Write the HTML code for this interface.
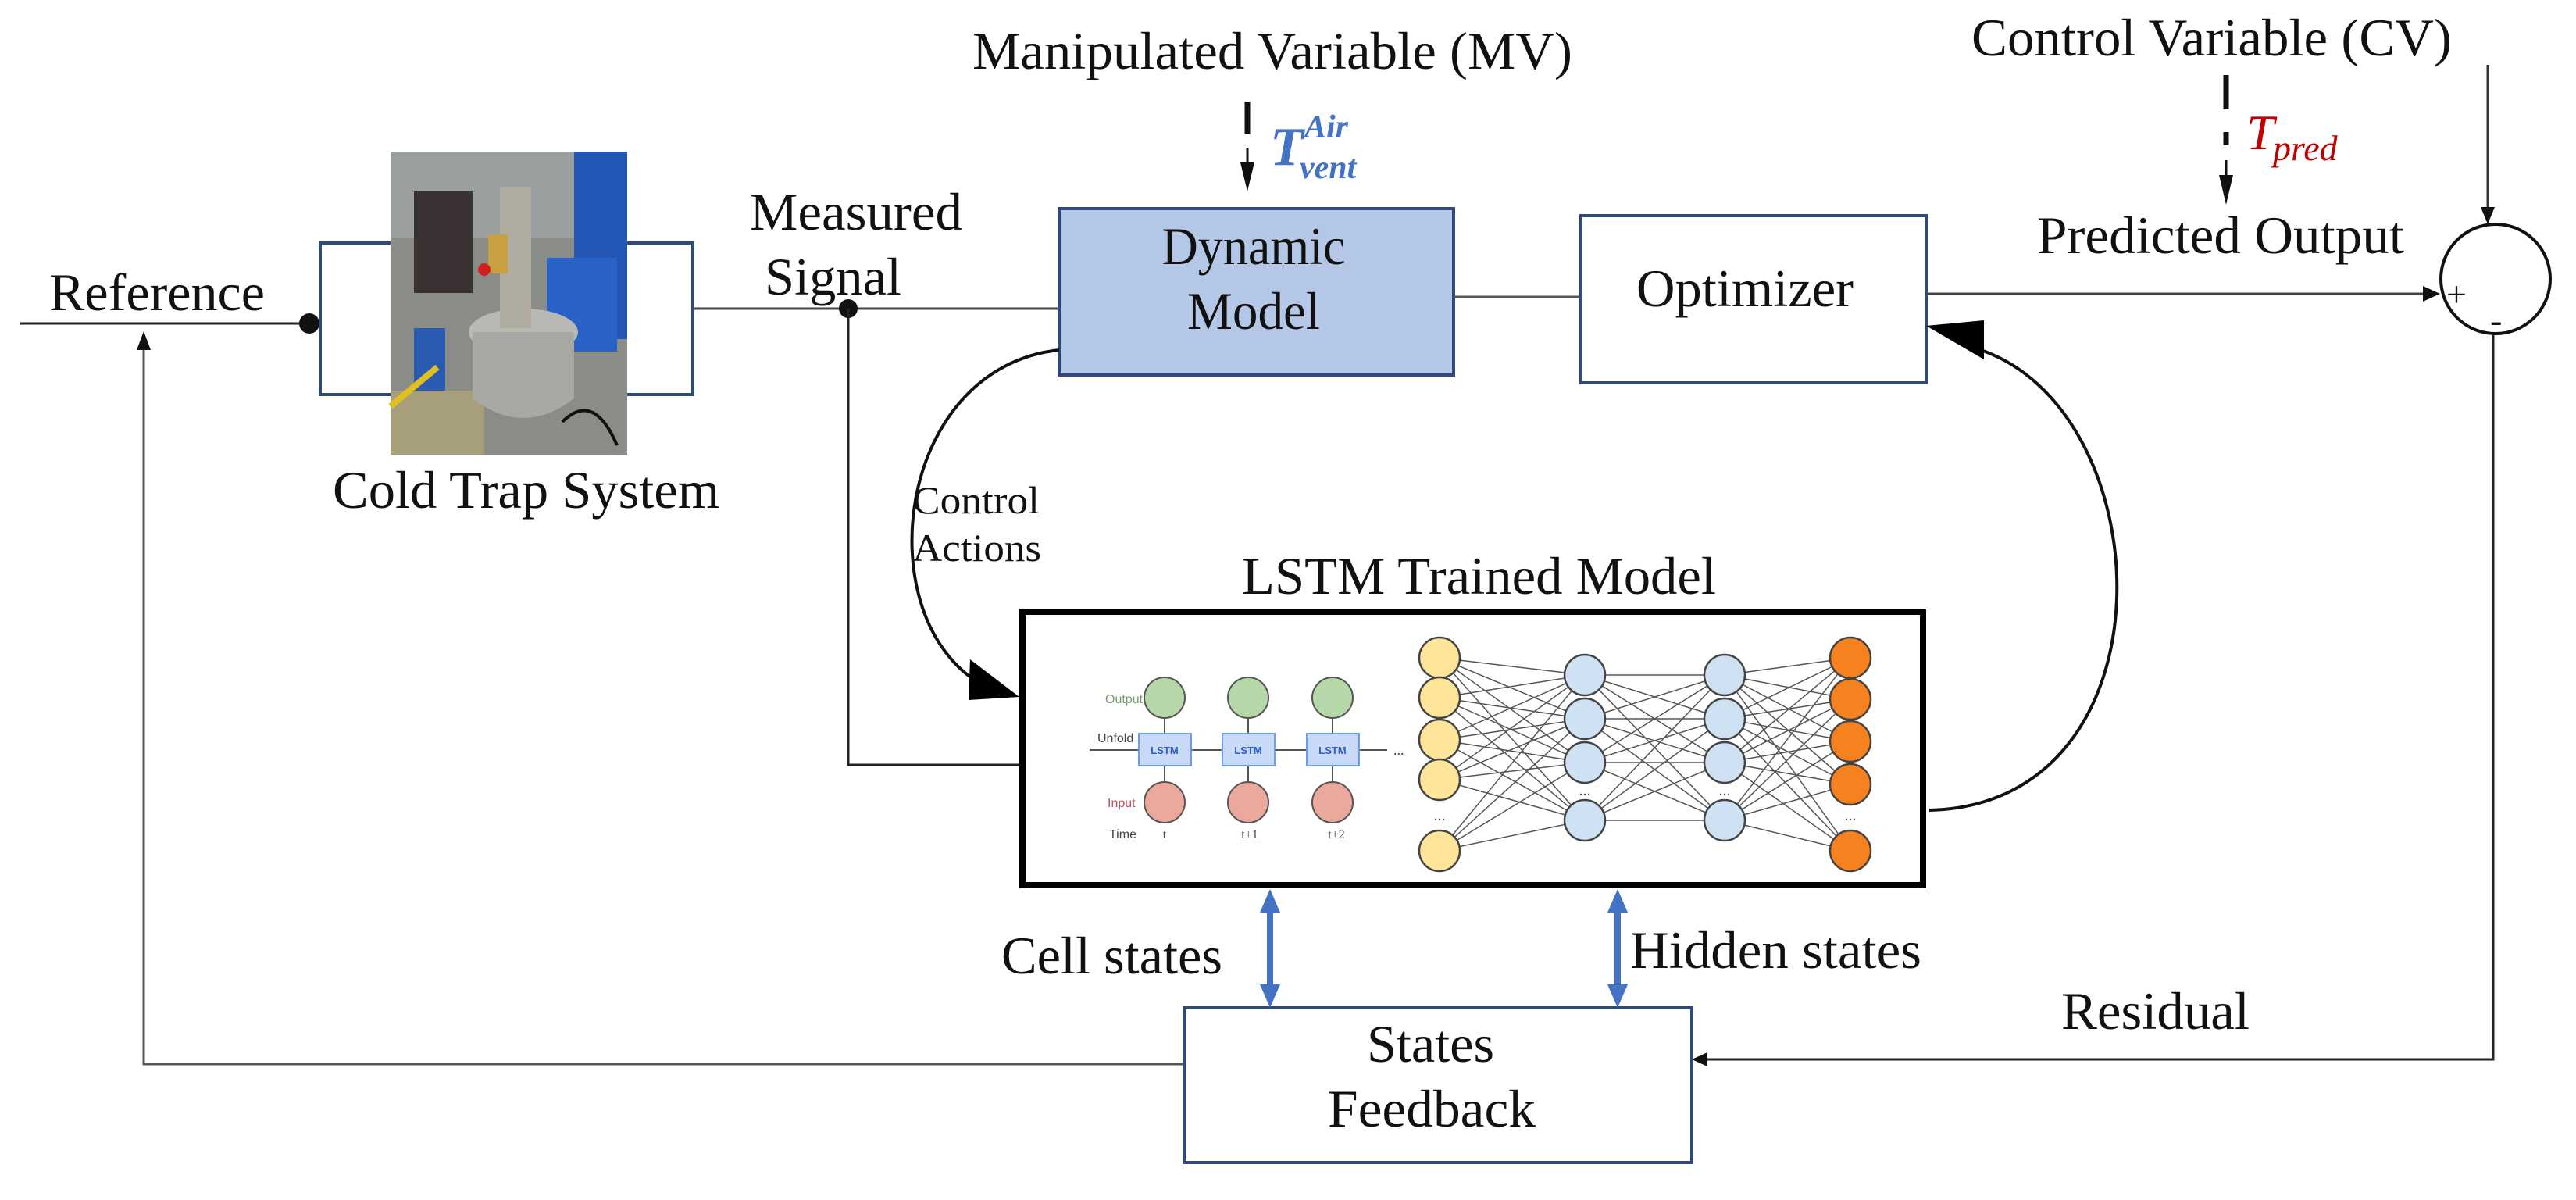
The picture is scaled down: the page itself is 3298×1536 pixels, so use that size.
<!DOCTYPE html>
<html><head><meta charset="utf-8"><style>
html,body{margin:0;padding:0;background:#fff;}
svg{display:block;}
text{font-family:"Liberation Serif",serif;fill:#111;}
</style></head><body>
<svg width="3298" height="1536" viewBox="0 0 3298 1536" xmlns="http://www.w3.org/2000/svg">

<!-- Reference line -->
<line x1="26" y1="414" x2="396" y2="414" stroke="#222" stroke-width="3"/>
<circle cx="396" cy="414" r="13" fill="#111"/>
<text x="63" y="397" font-size="68" textLength="276" lengthAdjust="spacingAndGlyphs">Reference</text>
<!-- feedback to reference -->
<polyline points="1516,1362 184,1362 184,440" fill="none" stroke="#555" stroke-width="3"/>
<path d="M184,424 l-9,24 l18,0z" fill="#111"/>

<!-- Cold trap bracket -->
<polyline points="500,311 410,311 410,505 500,505" fill="none" stroke="#2F4A7A" stroke-width="4"/>
<polyline points="803,311 887,311 887,505 803,505" fill="none" stroke="#2F4A7A" stroke-width="4"/>
<!-- photo -->
<g>
<rect x="500" y="194" width="303" height="388" fill="#8a8c88"/>
<rect x="500" y="194" width="303" height="110" fill="#9aa0a0"/>
<rect x="530" y="245" width="75" height="130" fill="#3a3232"/>
<rect x="735" y="194" width="68" height="240" fill="#2456b8"/>
<rect x="700" y="330" width="90" height="120" fill="#2a63c8"/>
<rect x="530" y="420" width="40" height="120" fill="#2a5bb0"/>
<rect x="500" y="500" width="120" height="82" fill="#a79e7c"/>
<path d="M500,520 L560,470" stroke="#e0c020" stroke-width="8"/>
<ellipse cx="670" cy="425" rx="70" ry="30" fill="#b8b8b4"/>
<path d="M605,425 L605,510 Q670,560 735,510 L735,425z" fill="#a8a8a4"/>
<rect x="640" y="240" width="40" height="180" fill="#b0aca0"/>
<rect x="625" y="300" width="25" height="50" fill="#c9a040"/>
<circle cx="620" cy="345" r="8" fill="#d02020"/>
<path d="M720,540 q40,-40 70,30" stroke="#111" stroke-width="4" fill="none"/>
</g>
<text x="426" y="650" font-size="68" textLength="495" lengthAdjust="spacingAndGlyphs">Cold Trap System</text>

<!-- Measured signal -->
<line x1="887" y1="395" x2="1356" y2="395" stroke="#444" stroke-width="3"/>
<circle cx="1086" cy="395" r="12" fill="#111"/>
<polyline points="1086,395 1086,979 1305,979" fill="none" stroke="#222" stroke-width="3"/>
<text x="960" y="294" font-size="68" textLength="272" lengthAdjust="spacingAndGlyphs">Measured</text>
<text x="979" y="377" font-size="68" textLength="175" lengthAdjust="spacingAndGlyphs">Signal</text>

<!-- MV -->
<text x="1245" y="88" font-size="68" textLength="768" lengthAdjust="spacingAndGlyphs">Manipulated Variable (MV)</text>
<line x1="1597" y1="130" x2="1597" y2="172" stroke="#111" stroke-width="7"/>
<line x1="1597" y1="190" x2="1597" y2="215" stroke="#111" stroke-width="3"/>
<path d="M1588,208 L1606,208 L1597,245z" fill="#111"/>
<text x="1626" y="211" font-size="70" font-style="italic" font-weight="bold" style="fill:#4472C4">T</text>
<text x="1670" y="176" font-size="42" font-style="italic" font-weight="bold" style="fill:#4472C4">Air</text>
<text x="1664" y="228" font-size="42" font-style="italic" font-weight="bold" style="fill:#4472C4">vent</text>

<!-- Dynamic model -->
<rect x="1356" y="267" width="505" height="213" fill="#B4C7E7" stroke="#2F4A7A" stroke-width="4"/>
<text x="1605" y="338" font-size="68" text-anchor="middle" textLength="235" lengthAdjust="spacingAndGlyphs">Dynamic</text>
<text x="1605" y="421" font-size="68" text-anchor="middle" textLength="170" lengthAdjust="spacingAndGlyphs">Model</text>
<line x1="1861" y1="380" x2="2024" y2="380" stroke="#555" stroke-width="3"/>

<!-- Optimizer -->
<rect x="2024" y="276" width="442" height="214" fill="#fff" stroke="#2F4A7A" stroke-width="4"/>
<text x="2095" y="392" font-size="68" textLength="278" lengthAdjust="spacingAndGlyphs">Optimizer</text>
<line x1="2466" y1="376" x2="3110" y2="376" stroke="#444" stroke-width="3"/>
<path d="M3124,376 l-22,-10 l0,20z" fill="#111"/>

<!-- Sum circle -->
<circle cx="3195" cy="357" r="70" fill="none" stroke="#111" stroke-width="4"/>
<text x="3132" y="392" font-size="46">+</text>
<text x="3188" y="425" font-size="46">-</text>
<line x1="3185" y1="83" x2="3185" y2="268" stroke="#333" stroke-width="3"/>
<path d="M3185,287 l-9,-22 l18,0z" fill="#111"/>

<!-- CV -->
<text x="2524" y="71" font-size="68" textLength="615" lengthAdjust="spacingAndGlyphs">Control Variable (CV)</text>
<line x1="2850" y1="96" x2="2850" y2="140" stroke="#111" stroke-width="7"/>
<line x1="2850" y1="169" x2="2850" y2="186" stroke="#111" stroke-width="7"/>
<line x1="2850" y1="205" x2="2850" y2="230" stroke="#111" stroke-width="3"/>
<path d="M2841,224 L2859,224 L2850,262z" fill="#111"/>
<text x="2876" y="191" font-size="64" font-style="italic" style="fill:#C00000">T</text>
<text x="2910" y="205" font-size="46" font-style="italic" style="fill:#C00000">pred</text>
<text x="2608" y="324" font-size="68" textLength="470" lengthAdjust="spacingAndGlyphs">Predicted Output</text>

<!-- Residual -->
<polyline points="3192,427 3192,1356 2180,1356" fill="none" stroke="#222" stroke-width="3"/>
<path d="M2166,1356 l20,-9 l0,18z" fill="#111"/>
<text x="2639" y="1317" font-size="68" textLength="241" lengthAdjust="spacingAndGlyphs">Residual</text>

<!-- States feedback -->
<rect x="1516" y="1290" width="650" height="198" fill="#fff" stroke="#2F4A7A" stroke-width="4"/>
<text x="1750" y="1359" font-size="68" textLength="163" lengthAdjust="spacingAndGlyphs">States</text>
<text x="1700" y="1442" font-size="68" textLength="266" lengthAdjust="spacingAndGlyphs">Feedback</text>

<!-- LSTM label -->
<text x="1590" y="760" font-size="68" textLength="607" lengthAdjust="spacingAndGlyphs">LSTM Trained Model</text>
<!-- LSTM box -->
<rect x="1309" y="783" width="1153" height="350" fill="#fff" stroke="#000" stroke-width="8"/>

<!-- blue double arrows -->
<g stroke="#4472C4" stroke-width="8" fill="#4472C4">
<line x1="1626" y1="1160" x2="1626" y2="1268"/>
<path d="M1626,1138 l-13,30 l26,0z" stroke="none"/>
<path d="M1626,1290 l-13,-30 l26,0z" stroke="none"/>
<line x1="2071" y1="1160" x2="2071" y2="1268"/>
<path d="M2071,1138 l-13,30 l26,0z" stroke="none"/>
<path d="M2071,1290 l-13,-30 l26,0z" stroke="none"/>
</g>
<text x="1282" y="1246" font-size="68" textLength="283" lengthAdjust="spacingAndGlyphs">Cell states</text>
<text x="2087" y="1239" font-size="68" textLength="373" lengthAdjust="spacingAndGlyphs">Hidden states</text>

<!-- Control actions curve -->
<path d="M1356,448 C1150,470 1110,780 1250,872" fill="none" stroke="#111" stroke-width="4"/>
<path d="M1305,892 L1242,844 L1240,896z" fill="#000"/>
<text x="1168" y="657" font-size="50" textLength="163" lengthAdjust="spacingAndGlyphs">Control</text>
<text x="1168" y="718" font-size="50" textLength="165" lengthAdjust="spacingAndGlyphs">Actions</text>

<!-- Optimizer feedback curve -->
<path d="M2470,1037 C2790,1030 2770,520 2530,446" fill="none" stroke="#111" stroke-width="4"/>
<path d="M2466,417 L2540,410 L2540,460z" fill="#000"/>

<!-- LSTM unrolled diagram -->
<g>
<line x1="1395" y1="960" x2="1776" y2="960" stroke="#555" stroke-width="2"/>
<text x="1415" y="900" font-size="16" style="fill:#7a9a6a;font-family:'Liberation Sans',sans-serif">Output</text>
<text x="1405" y="950" font-size="16" style="fill:#444;font-family:'Liberation Sans',sans-serif">Unfold</text>
<text x="1418" y="1033" font-size="16" style="fill:#c05060;font-family:'Liberation Sans',sans-serif">Input</text>
<text x="1420" y="1073" font-size="16" style="fill:#444;font-family:'Liberation Sans',sans-serif">Time</text>
<text x="1784" y="966" font-size="18" style="fill:#444">...</text>
<g stroke="#555" stroke-width="2">
<line x1="1491" y1="920" x2="1491" y2="1000"/><line x1="1598" y1="920" x2="1598" y2="1000"/><line x1="1706" y1="920" x2="1706" y2="1000"/>
</g>
<g stroke="#555" stroke-width="2" fill="#b6d7a8">
<circle cx="1491" cy="893" r="26"/><circle cx="1598" cy="893" r="26"/><circle cx="1706" cy="893" r="26"/>
</g>
<g stroke="#555" stroke-width="2" fill="#eaa99c">
<circle cx="1491" cy="1027" r="26"/><circle cx="1598" cy="1027" r="26"/><circle cx="1706" cy="1027" r="26"/>
</g>
<g stroke="#6d9eeb" stroke-width="2" fill="#c9daf8">
<rect x="1458" y="939" width="67" height="41"/><rect x="1565" y="939" width="67" height="41"/><rect x="1673" y="939" width="67" height="41"/>
</g>
<g font-size="13" font-weight="bold" text-anchor="middle">
<text x="1491" y="965" style="fill:#2a5bc8;font-family:'Liberation Sans',sans-serif">LSTM</text><text x="1598" y="965" style="fill:#2a5bc8;font-family:'Liberation Sans',sans-serif">LSTM</text><text x="1706" y="965" style="fill:#2a5bc8;font-family:'Liberation Sans',sans-serif">LSTM</text>
</g>
<g font-size="16" text-anchor="middle">
<text x="1491" y="1073" style="fill:#444">t</text><text x="1600" y="1073" style="fill:#444">t+1</text><text x="1711" y="1073" style="fill:#444">t+2</text>
</g>
</g>

<!-- Neural net -->
<g stroke="#555" stroke-width="1.5">
<path d="M1843,842L2029,864M1843,842L2029,920M1843,842L2029,976M1843,842L2029,1050
M1843,893L2029,864M1843,893L2029,920M1843,893L2029,976M1843,893L2029,1050
M1843,947L2029,864M1843,947L2029,920M1843,947L2029,976M1843,947L2029,1050
M1843,998L2029,864M1843,998L2029,920M1843,998L2029,976M1843,998L2029,1050
M1843,1089L2029,864M1843,1089L2029,920M1843,1089L2029,976M1843,1089L2029,1050
M2029,864L2208,864M2029,864L2208,920M2029,864L2208,976M2029,864L2208,1050
M2029,920L2208,864M2029,920L2208,920M2029,920L2208,976M2029,920L2208,1050
M2029,976L2208,864M2029,976L2208,920M2029,976L2208,976M2029,976L2208,1050
M2029,1050L2208,864M2029,1050L2208,920M2029,1050L2208,976M2029,1050L2208,1050
M2208,864L2369,842M2208,864L2369,895M2208,864L2369,949M2208,864L2369,1004M2208,864L2369,1089
M2208,920L2369,842M2208,920L2369,895M2208,920L2369,949M2208,920L2369,1004M2208,920L2369,1089
M2208,976L2369,842M2208,976L2369,895M2208,976L2369,949M2208,976L2369,1004M2208,976L2369,1089
M2208,1050L2369,842M2208,1050L2369,895M2208,1050L2369,949M2208,1050L2369,1004M2208,1050L2369,1089" fill="none"/>
</g>
<g stroke="#444" stroke-width="2.5" fill="#ffe599">
<circle cx="1843" cy="842" r="26"/><circle cx="1843" cy="893" r="26"/><circle cx="1843" cy="947" r="26"/><circle cx="1843" cy="998" r="26"/><circle cx="1843" cy="1089" r="26"/>
</g>
<g stroke="#444" stroke-width="2.5" fill="#cfe2f3">
<circle cx="2029" cy="864" r="26"/><circle cx="2029" cy="920" r="26"/><circle cx="2029" cy="976" r="26"/><circle cx="2029" cy="1050" r="26"/>
<circle cx="2208" cy="864" r="26"/><circle cx="2208" cy="920" r="26"/><circle cx="2208" cy="976" r="26"/><circle cx="2208" cy="1050" r="26"/>
</g>
<g stroke="#444" stroke-width="2.5" fill="#f6821f">
<circle cx="2369" cy="842" r="26"/><circle cx="2369" cy="895" r="26"/><circle cx="2369" cy="949" r="26"/><circle cx="2369" cy="1004" r="26"/><circle cx="2369" cy="1089" r="26"/>
</g>
<g font-size="20" text-anchor="middle">
<text x="1843" y="1050" style="fill:#555">...</text><text x="2029" y="1018" style="fill:#555">...</text><text x="2208" y="1018" style="fill:#555">...</text><text x="2369" y="1050" style="fill:#555">...</text>
</g>
</svg>
</body></html>
